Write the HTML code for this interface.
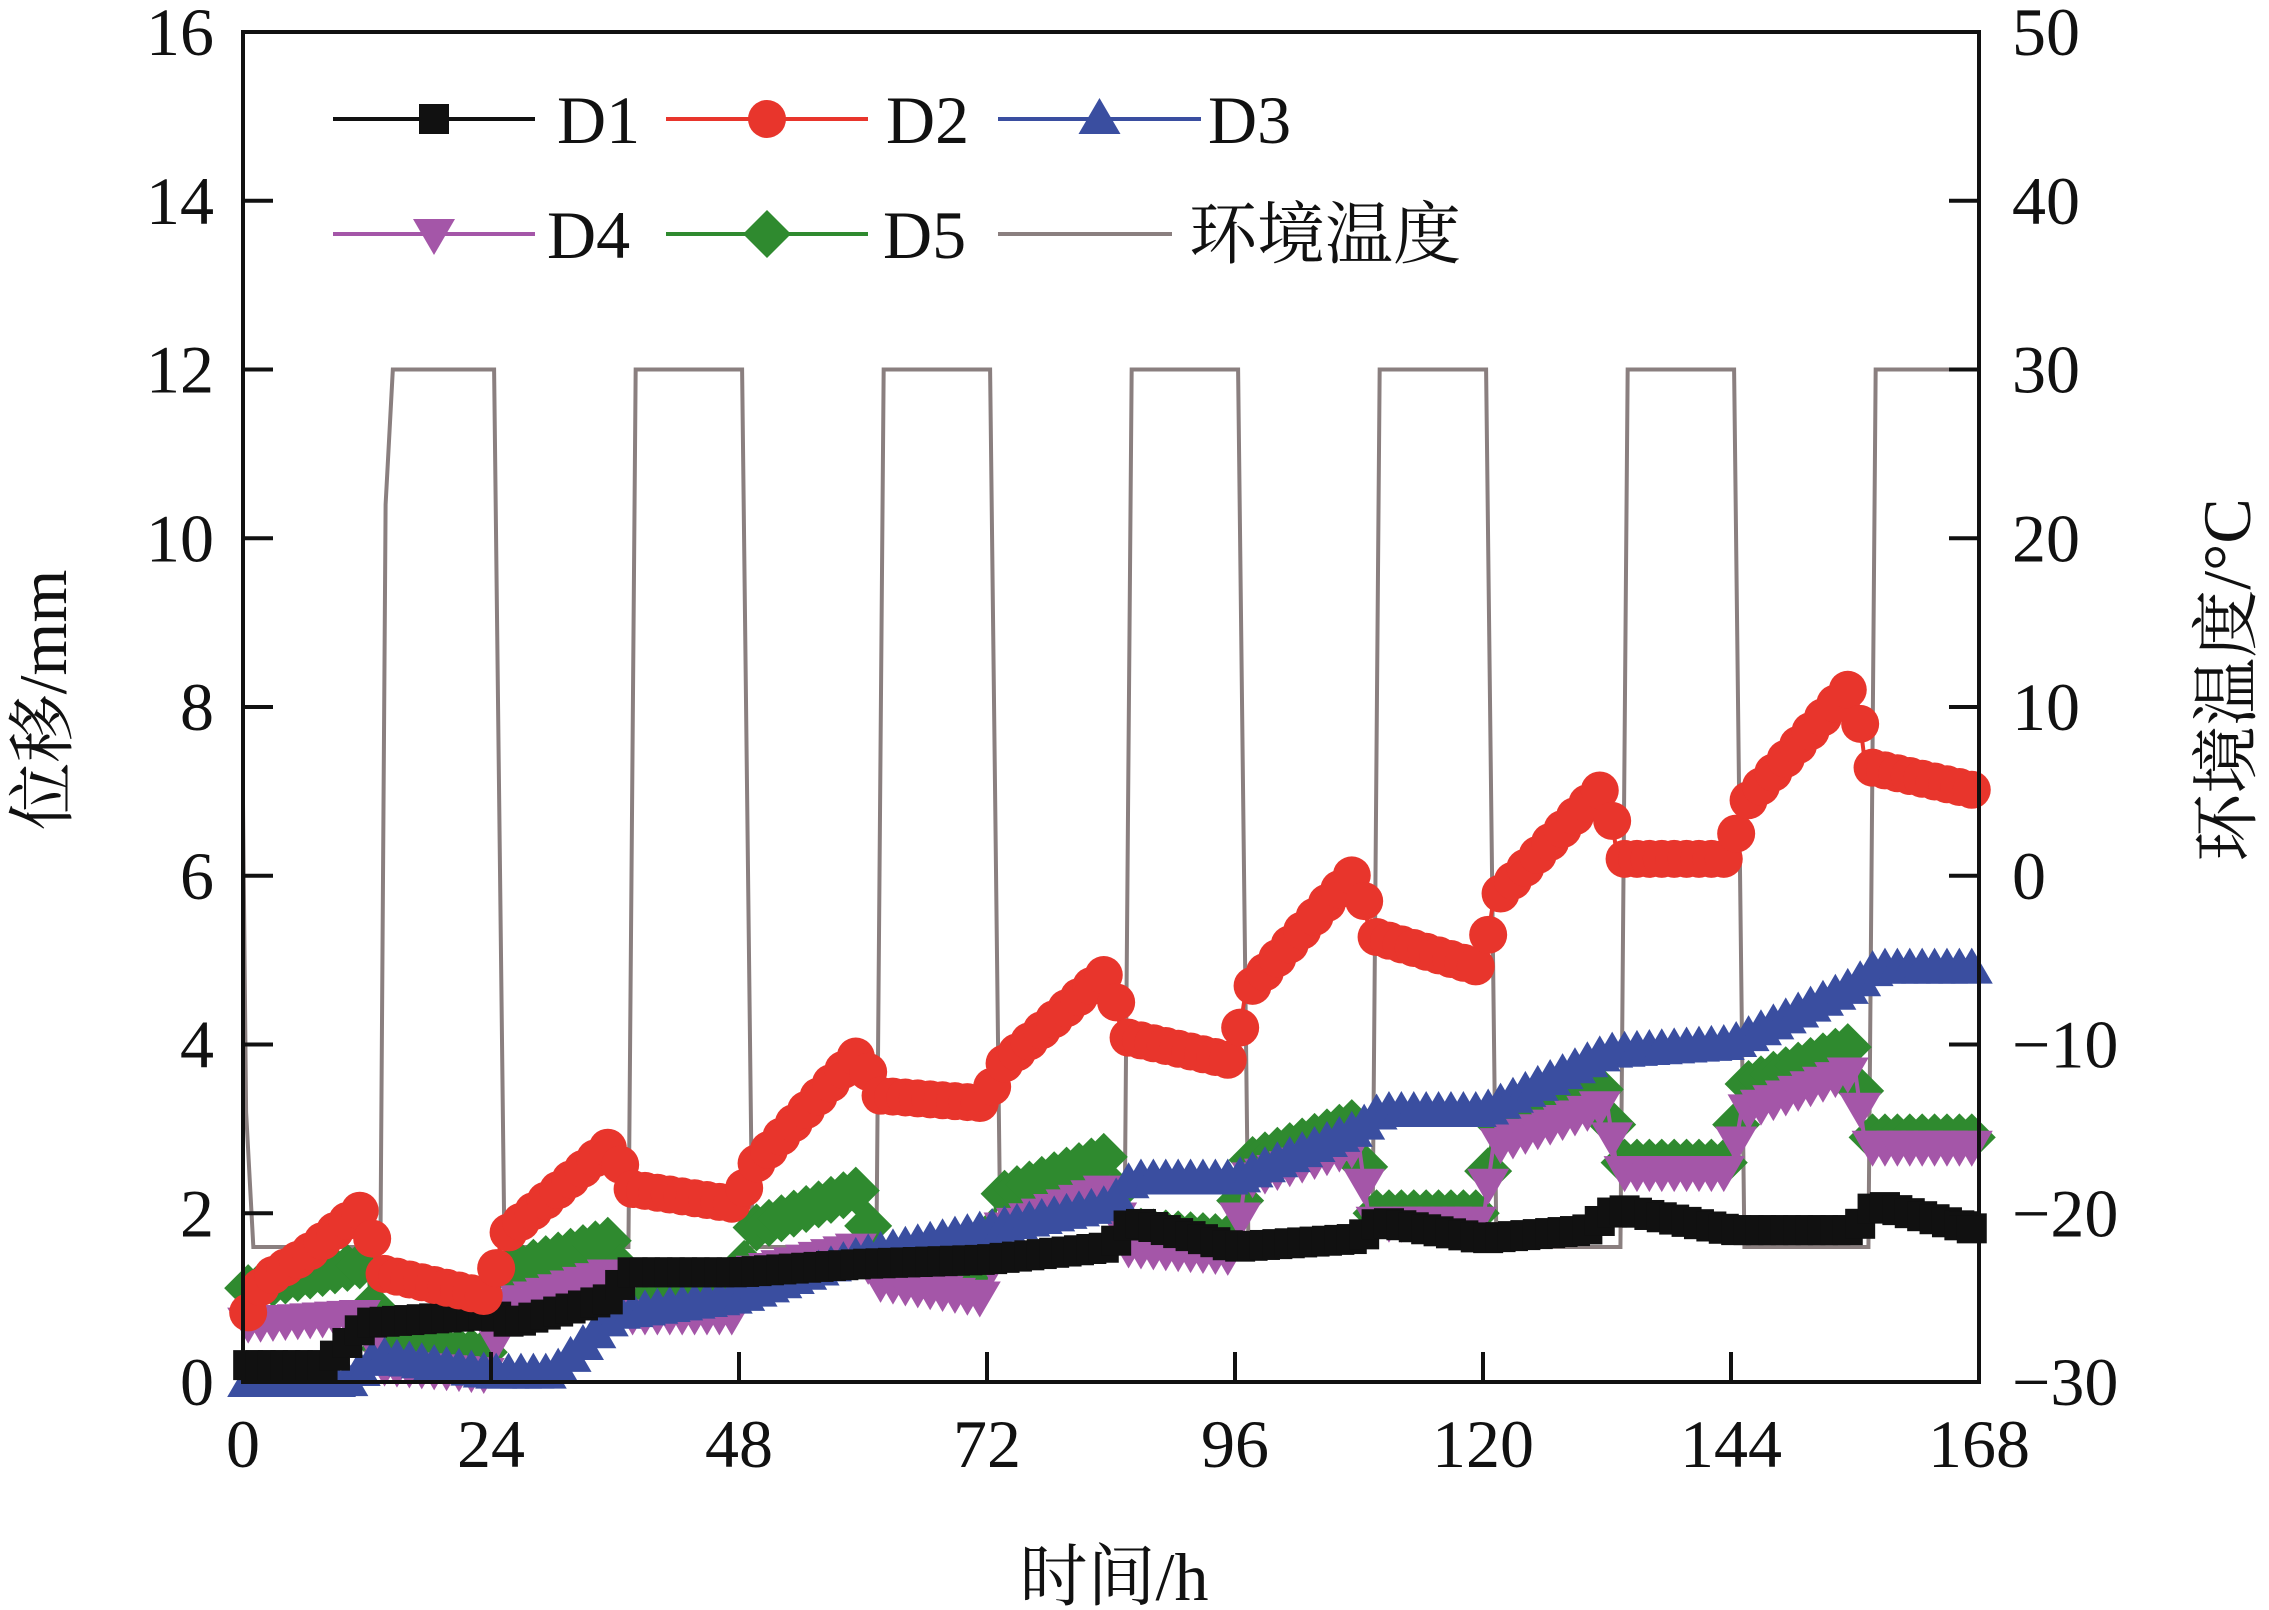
<!DOCTYPE html>
<html><head><meta charset="utf-8"><style>html,body{margin:0;padding:0;background:#fff}svg{display:block}text{font-family:"Liberation Serif","Noto Serif CJK SC",serif;fill:#111}</style></head>
<body>
<svg id="s" width="2269" height="1610" xmlns="http://www.w3.org/2000/svg">
<g id="data"></g>
<g id="axes" stroke="#111" stroke-width="4" fill="none"><rect x="243" y="32" width="1736" height="1350"/></g>
<g id="lab" font-size="68"></g>
</svg>
<script>
const NS="http://www.w3.org/2000/svg";
const L=243,R=1979,T=32,B=1382;
const X=h=>L+h*(R-L)/168, Y=m=>B-m*(B-T)/16, YT=t=>B-(t+30)*(B-T)/80;
function el(p,tag,a,txt){const e=document.createElementNS(NS,tag);for(const k in a)e.setAttribute(k,a[k]);if(txt!==undefined)e.textContent=txt;p.appendChild(e);return e;}
const d=document.getElementById('data'),ax=document.getElementById('axes'),lb=document.getElementById('lab');
function interp(pts,h){for(let i=0;i<pts.length-1;i++){if(h>=pts[i][0]&&h<=pts[i+1][0]){const [a,b]=[pts[i],pts[i+1]];return a[1]+(b[1]-a[1])*(h-a[0])/(b[0]-a[0]);}}return pts[pts.length-1][1];}
function arr(s){const a=[];for(let i=0;i<s.length;i+=2)a.push([s[i],s[i+1]]);return a;}
let tp=[[0,4.3],[0.3,-14],[1,-22],[13.3,-22],[13.8,22],[14.5,30]];
for(let k=0;k<7;k++){const b=24*k;if(k>0){tp.push([b+13.3,-22],[b+14,30]);}tp.push([b+24.3,30],[b+25.3,-22]);}
tp=tp.filter(p=>p[0]<=168);tp.push([168,30]);
el(d,'polyline',{points:tp.map(p=>X(p[0])+','+YT(p[1])).join(' '),fill:'none',stroke:'#8a7f7f','stroke-width':4});
const series=[
{c:'#2f8a2f',m:'dia',p:arr([0,1.1,12,1.4,13,0.4,24,0.35,25,1.3,36,1.7,37,1.0,48,1.0,49,1.8,60,2.3,61,1.4,72,1.35,73,2.2,84,2.7,85,1.8,96,1.7,97,2.6,108,3.1,109,2.0,120,2.0,121,3.0,132,3.5,133,2.6,144,2.6,145,3.5,156,4.0,157,2.9,168,2.9])},
{c:'#a456a8',m:'dn',p:arr([0,0.7,12,0.8,13,0.2,24,0.1,25,0.9,36,1.3,37,0.8,48,0.8,49,1.3,60,1.6,61,1.2,72,1.0,73,1.8,84,2.3,85,1.6,96,1.5,97,2.4,108,2.8,109,1.9,120,1.9,121,2.8,132,3.3,133,2.5,144,2.5,145,3.2,156,3.7,157,2.8,168,2.8])},
{c:'#3a4ea0',m:'up',p:arr([0,0,10,0,13,0.3,24,0.1,30,0.1,36,0.8,48,1.0,60,1.5,72,1.8,84,2.1,86,2.4,96,2.4,108,3.0,110,3.2,120,3.2,132,3.9,144,4.0,156,4.7,158,4.9,168,4.9])},
{c:'#111',m:'sq',p:arr([0,0.2,8,0.2,12,0.7,24,0.8,26,0.7,36,1.0,37,1.3,48,1.3,60,1.4,72,1.45,84,1.6,86,1.9,96,1.6,108,1.7,110,1.9,120,1.7,130,1.8,133,2.05,144,1.8,156,1.8,158,2.1,168,1.8])},
{c:'#e8352c',m:'ci',p:arr([0,0.7,2,1.2,6,1.5,12,2.1,13,1.3,24,1.0,25,1.7,36,2.85,37,2.3,48,2.1,49,2.5,60,3.95,61,3.4,72,3.3,73,3.7,84,4.9,85,4.1,96,3.8,97,4.6,108,6.1,109,5.3,120,4.9,121,5.7,132,7.1,133,6.2,144,6.2,145,6.8,156,8.3,157,7.3,168,7.0])}];
function marker(g,m,x,y,c){
 if(m=='ci')el(g,'circle',{cx:x,cy:y,r:19,fill:c});
 if(m=='sq')el(g,'rect',{x:x-15,y:y-15,width:30,height:30,fill:c});
 if(m=='up')el(g,'polygon',{points:`${x},${y-21} ${x-21},${y+15} ${x+21},${y+15}`,fill:c});
 if(m=='dn')el(g,'polygon',{points:`${x},${y+21} ${x-21},${y-15} ${x+21},${y-15}`,fill:c});
 if(m=='dia')el(g,'polygon',{points:`${x},${y-24} ${x+24},${y} ${x},${y+24} ${x-24},${y}`,fill:c});
}
for(const s of series){
 el(d,'polyline',{points:s.p.map(p=>X(p[0])+','+Y(p[1])).join(' '),fill:'none',stroke:s.c,'stroke-width':4});
 for(let h=0.5;h<=167.6;h+=1.2){marker(d,s.m,X(h),Y(interp(s.p,h)),s.c);}
}
for(let i=0;i<=8;i++){const y=Y(2*i);el(ax,'line',{x1:L,y1:y,x2:L+30,y2:y});el(lb,'text',{x:214,y:y+23,'text-anchor':'end'},String(2*i));}
for(let i=0;i<=8;i++){const t=-30+10*i,y=YT(t);el(ax,'line',{x1:R,y1:y,x2:R-30,y2:y});el(lb,'text',{x:2012,y:y+23},t<0?'\u2212'+(-t):String(t));}
for(let i=0;i<=7;i++){const x=X(24*i);el(ax,'line',{x1:x,y1:B,x2:x,y2:B-30});el(lb,'text',{x:x,y:1467,'text-anchor':'middle'},String(24*i));}
el(lb,'text',{x:1114,y:1600,'text-anchor':'middle'},'时间/h');
el(lb,'text',{transform:'translate(66,700) rotate(-90)','text-anchor':'middle'},'位移/mm');
el(lb,'text',{transform:'translate(2250,680) rotate(-90)','text-anchor':'middle'},'环境温度/°C');
const lg=[['#111','sq',333,535,119,'D1',557],['#e8352c','ci',666,868,119,'D2',886],['#3a4ea0','up',998,1201,119,'D3',1208],['#a456a8','dn',333,535,234,'D4',547],['#2f8a2f','dia',666,868,234,'D5',883]];
for(const q of lg){el(d,'line',{x1:q[2],y1:q[4],x2:q[3],y2:q[4],stroke:q[0],'stroke-width':4});marker(d,q[1],(q[2]+q[3])/2,q[4],q[0]);el(lb,'text',{x:q[6],y:q[4]+24},q[5]);}
el(d,'line',{x1:998,y1:234,x2:1172,y2:234,stroke:'#8a7f7f','stroke-width':4});
el(lb,'text',{x:1189,y:258},'环境温度');
</script>
</body></html>
